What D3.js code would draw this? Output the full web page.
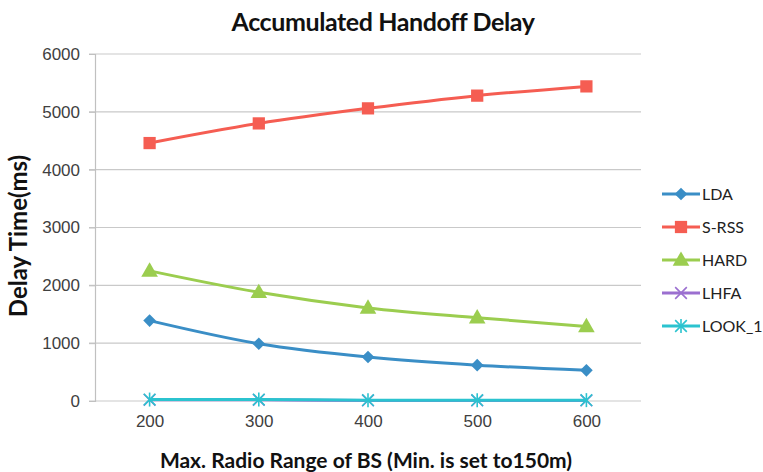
<!DOCTYPE html>
<html>
<head>
<meta charset="utf-8">
<script src="https://cdn.jsdelivr.net/npm/d3@7"></script>
<style>
  html, body { margin: 0; padding: 0; background: #fff; }
  svg { display: block; font-family: Lato, "Open Sans", sans-serif; }
</style>
</head>
<body>
<svg id="chart" width="763" height="472"></svg>
<script>
// Categories: maximum radio range of the base station (m)
const ranges = [200, 300, 400, 500, 600];

// Accumulated handoff delay per scheme (ms)
const lda   = [1390, 990, 760, 620, 530];
const srss  = [4460, 4800, 5060, 5280, 5440];
const hard  = [2250, 1880, 1610, 1440, 1290];
const lhfa  = [20, 20, 10, 10, 10];
const look1 = [25, 25, 15, 15, 15];

const yTicks = [0, 1000, 2000, 3000, 4000, 5000, 6000];

const series = [
  { name: "LDA",    values: lda,   color: "#3a8ec6", symbol: "diamond" },
  { name: "S-RSS",  values: srss,  color: "#f55d52", symbol: "square" },
  { name: "HARD",   values: hard,  color: "#9bcd4f", symbol: "triangle" },
  { name: "LHFA",   values: lhfa,  color: "#9b6fd0", symbol: "cross" },
  { name: "LOOK_1", values: look1, color: "#2bc3cf", symbol: "star" }
];

const svg = d3.select("#chart");
const m = { left: 95, right: 641, top: 54, bottom: 401 };

const x = d3.scalePoint().domain(ranges).range([m.left, m.right]).padding(0.5);
const y = d3.scaleLinear().domain([0, 6000]).range([m.bottom, m.top]);

// Horizontal gridlines
svg.append("g")
  .selectAll("line")
  .data(yTicks)
  .join("line")
  .attr("x1", m.left - 6).attr("x2", m.right)
  .attr("y1", d => y(d)).attr("y2", d => y(d))
  .attr("stroke", "#c9c9c9").attr("stroke-width", 1.2);

// Y axis
const yAxis = svg.append("g")
  .attr("transform", `translate(${m.left},0)`)
  .call(d3.axisLeft(y).tickValues(yTicks).tickFormat(d3.format("d")).tickSize(6).tickPadding(9));
yAxis.select(".domain").attr("stroke", "#c0c0c0").attr("stroke-width", 1.2);
yAxis.selectAll(".tick line").attr("stroke", "#c0c0c0");
yAxis.selectAll("text").attr("font-size", 17).attr("fill", "#404040");

// X axis labels
const xAxis = svg.append("g")
  .attr("transform", `translate(0,${m.bottom})`)
  .call(d3.axisBottom(x).tickSize(0).tickPadding(14));
xAxis.select(".domain").remove();
xAxis.selectAll("text").attr("font-size", 17).attr("fill", "#404040");

// Marker shapes
function marker(g, s, cx, cy) {
  const c = s.color;
  if (s.symbol === "diamond") {
    g.append("path").attr("d", d3.symbol(d3.symbolSquare, 80)())
      .attr("transform", `translate(${cx},${cy}) rotate(45)`).attr("fill", c);
  } else if (s.symbol === "square") {
    g.append("path").attr("d", d3.symbol(d3.symbolSquare, 150)())
      .attr("transform", `translate(${cx},${cy})`).attr("fill", c);
  } else if (s.symbol === "triangle") {
    g.append("path").attr("d", d3.symbol(d3.symbolTriangle, 120)())
      .attr("transform", `translate(${cx},${cy + 1})`).attr("fill", c);
  } else if (s.symbol === "cross") {
    g.append("path").attr("d", d3.symbol(d3.symbolX, 90)())
      .attr("transform", `translate(${cx},${cy})`).attr("fill", "none")
      .attr("stroke", c).attr("stroke-width", 1.6);
  } else {
    g.append("path").attr("d", d3.symbol(d3.symbolX, 90)())
      .attr("transform", `translate(${cx},${cy})`).attr("fill", "none")
      .attr("stroke", c).attr("stroke-width", 1.6);
    g.append("line").attr("x1", cx).attr("x2", cx).attr("y1", cy - 7).attr("y2", cy + 7)
      .attr("stroke", c).attr("stroke-width", 1.6);
  }
}

// Lines and markers
const line = d3.line().x((d, i) => x(ranges[i])).y(d => y(d)).curve(d3.curveMonotoneX);
series.forEach(s => {
  const g = svg.append("g");
  g.append("path").datum(s.values).attr("d", line)
    .attr("fill", "none").attr("stroke", s.color).attr("stroke-width", 3)
    .attr("stroke-linejoin", "round");
  s.values.forEach((v, i) => marker(g, s, x(ranges[i]), y(v)));
});

// Legend
const legend = svg.append("g");
series.forEach((s, i) => {
  const ly = 194 + i * 33;
  const g = legend.append("g");
  g.append("line").attr("x1", 662).attr("x2", 700).attr("y1", ly).attr("y2", ly)
    .attr("stroke", s.color).attr("stroke-width", 3);
  marker(g, s, 681, ly);
  g.append("text").attr("x", 702).attr("y", ly + 6)
    .attr("font-size", 16).attr("fill", "#222").text(s.name);
});

// Titles
svg.append("text").attr("x", 383).attr("y", 31).attr("text-anchor", "middle")
  .attr("font-size", 25).attr("font-weight", "bold").attr("fill", "#111")
  .attr("letter-spacing", -0.4).text("Accumulated Handoff Delay");

svg.append("text").attr("x", 366).attr("y", 468).attr("text-anchor", "middle")
  .attr("font-size", 21).attr("font-weight", "bold").attr("fill", "#111")
  .text("Max. Radio Range of BS (Min. is set to150m)");

svg.append("text")
  .attr("transform", "translate(27,236) rotate(-90)")
  .attr("text-anchor", "middle")
  .attr("font-size", 24).attr("font-weight", "bold").attr("fill", "#111")
  .text("Delay Time(ms)");
</script>
</body>
</html>
